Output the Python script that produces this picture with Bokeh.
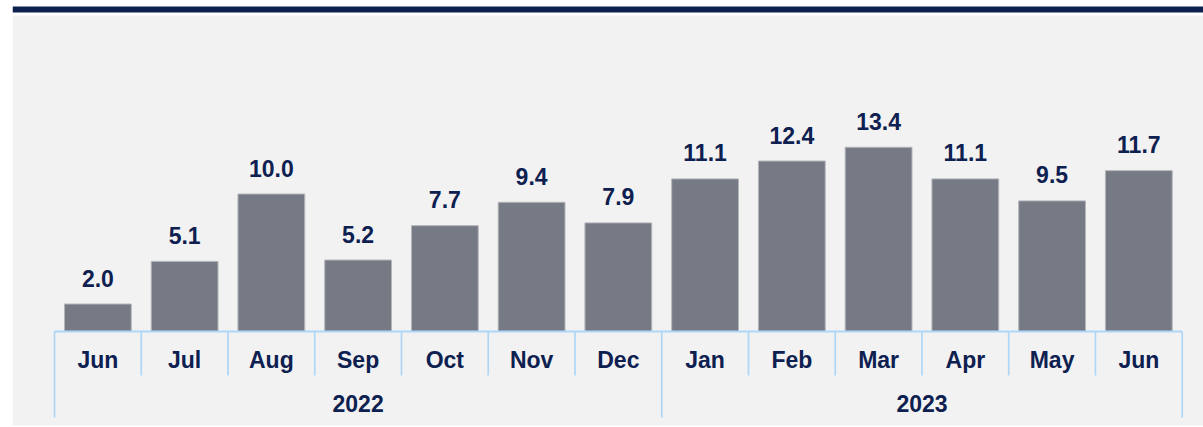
from bokeh.plotting import figure
from bokeh.models import Range1d, BoxAnnotation, ColumnDataSource
from bokeh.core.properties import value
from bokeh.embed import file_html
from bokeh.resources import INLINE

# ---- data ----
months = ["Jun", "Jul", "Aug", "Sep", "Oct", "Nov", "Dec",
          "Jan", "Feb", "Mar", "Apr", "May", "Jun"]
years = ["2022", "2023"]
months_per_year = [7, 6]
values = [2.0, 5.1, 10.0, 5.2, 7.7, 9.4, 7.9, 11.1, 12.4, 13.4, 11.1, 9.5, 11.7]

# ---- styling / layout constants ----
NAVY = "#0d2050"
BAR = "#767a84"
BAR_EDGE = "#b4b6ba"
PANEL = "#f2f2f2"
AXIS = "#aed6f7"
FONT = value("Liberation Sans")
FSIZE = "23px"

W, H = 1203, 427
PAGE_TOP = 0
PAGE_LEFT = 0
FRAME_LEFT = 12
BASE_Y = 331          # page y of value 0
PX_Y = 13.75          # pixels per unit of value
AX_L, AX_R = 54, 1181.7
n = len(months)
PX_X = (AX_R - AX_L) / n

x_start = -(AX_L - FRAME_LEFT) / PX_X
x_end = x_start + (PAGE_LEFT + W - FRAME_LEFT) / PX_X
y_end = (BASE_Y - PAGE_TOP) / PX_Y
y_start = -(PAGE_TOP + H - BASE_Y) / PX_Y

p = figure(width=W, height=H, output_backend="svg", toolbar_location=None,
           x_range=Range1d(x_start, x_end), y_range=Range1d(y_start, y_end),
           x_axis_type=None, y_axis_type=None,
           min_border_left=FRAME_LEFT - PAGE_LEFT, min_border_right=0,
           min_border_top=0, min_border_bottom=0,
           background_fill_color="white", border_fill_color="white",
           outline_line_color=None)
p.grid.visible = False

# top navy rule and grey panel
p.add_layout(BoxAnnotation(top=(BASE_Y - 6) / PX_Y, bottom=(BASE_Y - 12) / PX_Y,
                           fill_color=NAVY, fill_alpha=1, line_alpha=0,
                           level="underlay"))
p.add_layout(BoxAnnotation(top=(BASE_Y - 15) / PX_Y, bottom=(BASE_Y - 425) / PX_Y,
                           fill_color=PANEL, fill_alpha=1, line_alpha=0,
                           level="underlay"))

centers = [i + 0.5 for i in range(n)]
src = ColumnDataSource(dict(x=centers, top=values,
                            lab=[f"{v:.1f}" for v in values],
                            month=months, zero=[0] * n))

p.vbar(x="x", top="top", width=0.77, source=src,
       fill_color=BAR, line_color=BAR_EDGE, line_width=1)

p.text(x="x", y="top", text="lab", source=src, text_align="center",
       text_baseline="alphabetic", y_offset=-26, text_font=FONT,
       text_font_style="bold", text_font_size=FSIZE, text_color=NAVY)

p.text(x="x", y="zero", text="month", source=src, text_align="center",
       text_baseline="alphabetic", y_offset=28, text_font=FONT,
       text_font_style="bold", text_font_size=FSIZE, text_color=NAVY)

# year group labels
group_bounds = [0]
for c in months_per_year:
    group_bounds.append(group_bounds[-1] + c)
year_centers = [(group_bounds[i] + group_bounds[i + 1]) / 2 for i in range(len(years))]
p.text(x=year_centers, y=[0] * len(years), text=years, text_align="center",
       text_baseline="alphabetic", y_offset=72, text_font=FONT,
       text_font_style="bold", text_font_size=FSIZE, text_color=NAVY)

# axis frame lines
p.segment(x0=[0], y0=[0], x1=[n], y1=[0], line_color=AXIS, line_width=2)
short_len = -44 / PX_Y
long_len = -86 / PX_Y
bx = list(range(n + 1))
by1 = [long_len if b in group_bounds else short_len for b in bx]
p.segment(x0=bx, y0=[0] * len(bx), x1=bx, y1=by1, line_color=AXIS, line_width=1.7)

open("out.html", "w").write(file_html(p, INLINE))
